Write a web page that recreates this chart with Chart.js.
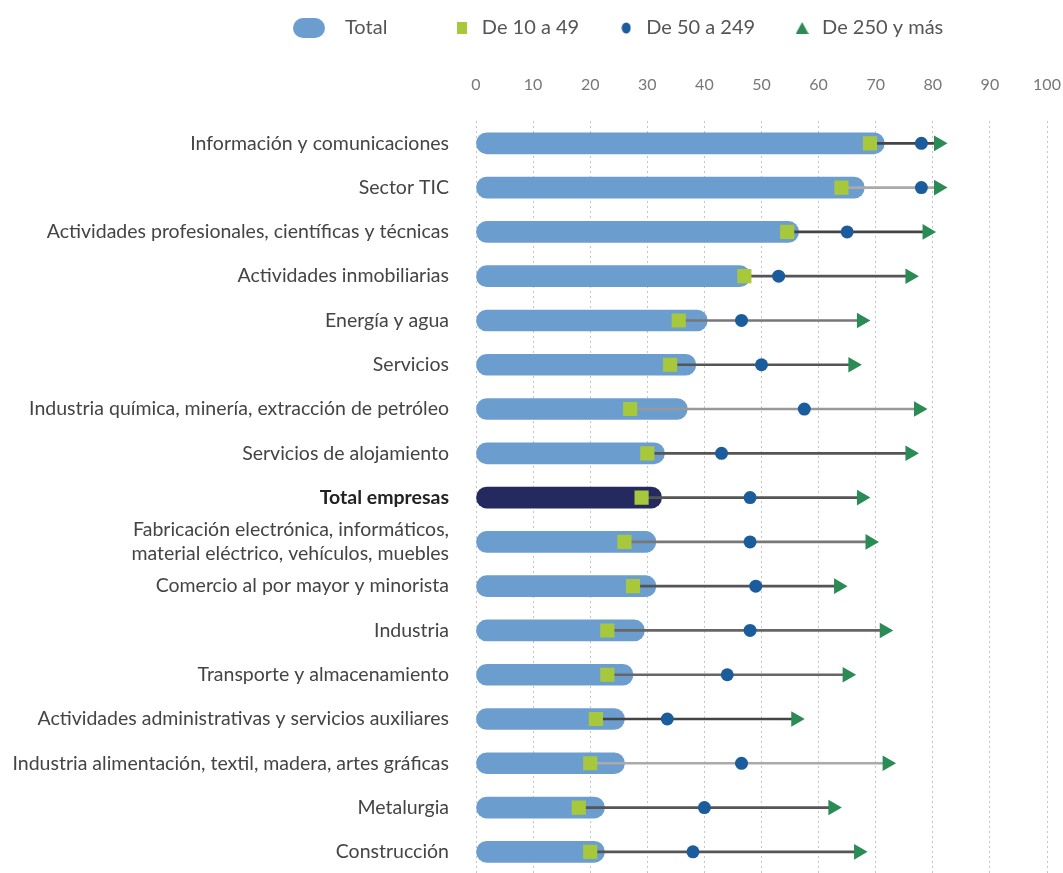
<!DOCTYPE html>
<html lang="es">
<head>
<meta charset="utf-8">
<title>Empresas por sector y tamaño</title>
<script src="https://cdn.jsdelivr.net/npm/chart.js@4.4.1/dist/chart.umd.min.js"></script>
<style>
  html, body { margin: 0; padding: 0; background: #fff; overflow: hidden; }
  /* 11 px mas alto que la ventana: Chart.js reserva media etiqueta abajo */
  #wrap { width: 1063px; height: 884px; position: relative; }
</style>
</head>
<body>
<div id="wrap"><canvas id="grafico"></canvas></div>
<script>
// datos (porcentaje de empresas)
const categorias = [
  "Información y comunicaciones",
  "Sector TIC",
  "Actividades profesionales, científicas y técnicas",
  "Actividades inmobiliarias",
  "Energía y agua",
  "Servicios",
  "Industria química, minería, extracción de petróleo",
  "Servicios de alojamiento",
  "Total empresas",
  ["Fabricación electrónica, informáticos,", "material eléctrico, vehículos, muebles"],
  "Comercio al por mayor y minorista",
  "Industria",
  "Transporte y almacenamiento",
  "Actividades administrativas y servicios auxiliares",
  "Industria alimentación, textil, madera, artes gráficas",
  "Metalurgia",
  "Construcción"
];
const total    = [71.5, 68, 56.5, 48, 40.5, 38.5, 37, 33, 32.5, 31.5, 31.5, 29.5, 27.5, 26, 26, 22.5, 22.5];
const de10a49  = [69, 64, 54.5, 47, 35.5, 34, 27, 30, 29, 26, 27.5, 23, 23, 21, 20, 18, 20];
const de50a249 = [78, 78, 65, 53, 46.5, 50, 57.5, 43, 48, 48, 49, 48, 44, 33.5, 46.5, 40, 38];
const de250    = [81, 81, 79, 76, 67.5, 66, 77.5, 76, 67.5, 69, 63.5, 71.5, 65, 56, 72, 62.5, 67];
const ticksEje = [0, 10, 20, 30, 40, 50, 60, 70, 80, 90, 100];

// colores
const azulClaro = "#6b9ecf";
const azulOscuro = "#242a5f";
const verdeLima = "#a8c83c";
const azulPunto = "#1b5c9c";
const verde = "#2b8b55";
const colorLinea = ["#444", "#aaa", "#444", "#555", "#777", "#555", "#999", "#555", "#555",
  "#777", "#555", "#666", "#666", "#444", "#aaa", "#555", "#555"];

const esTotal = (i) => categorias[i] === "Total empresas";

// tramo entre el punto de 10 a 49 y el de 250 y mas
const tramos = categorias.map((c, i) => [de10a49[i], de250[i]]);

// iconos de la leyenda
function icono(w, h, dibujar) {
  const c = document.createElement("canvas");
  c.width = w;
  c.height = h;
  dibujar(c.getContext("2d"));
  return c;
}
const iconos = [
  // la pastilla va desplazada a la izquierda del centro de la caja
  icono(64, 20, (g) => {
    g.fillStyle = azulClaro;
    g.beginPath();
    g.roundRect(0, 0, 32, 20, 10);
    g.fill();
  }),
  icono(10, 12, (g) => {
    g.fillStyle = verdeLima;
    g.fillRect(0, 0, 10, 12);
  }),
  icono(10, 12, (g) => {
    g.fillStyle = azulPunto;
    g.beginPath();
    g.ellipse(5, 6, 4.5, 5.5, 0, 0, Math.PI * 2);
    g.fill();
  }),
  icono(13, 12, (g) => {
    g.fillStyle = verde;
    g.beginPath();
    g.moveTo(6.5, 0);
    g.lineTo(13, 12);
    g.lineTo(0, 12);
    g.closePath();
    g.fill();
  })
];

// coloca la leyenda: la primera caja empieza en x = 315
const moverLeyenda = {
  id: "moverLeyenda",
  afterLayout(chart) {
    const l = chart.legend;
    const ancho = l.lineWidths[0];
    const pad = l.options.labels.padding;
    const inicio = (l.left + pad + l.right - ancho) / 2;
    const dx = 315 - inicio;
    l.left += dx;
    l.right += dx;
  }
};

const fuente = "Lato, 'Open Sans', sans-serif";

const ctx = document.getElementById("grafico").getContext("2d");
new Chart(ctx, {
  data: {
    labels: categorias,
    datasets: [
      {
        type: "bar",
        label: "Total",
        data: total,
        backgroundColor: categorias.map((c, i) => (esTotal(i) ? azulOscuro : azulClaro)),
        barThickness: 21,
        borderRadius: 11,
        borderSkipped: false,
        grouped: false,
        indexAxis: "y",
        order: 5
      },
      {
        type: "line",
        label: "De 10 a 49",
        data: de10a49,
        showLine: false,
        pointStyle: "rect",
        pointRadius: 10,
        pointBorderWidth: 0,
        backgroundColor: verdeLima,
        borderColor: verdeLima,
        indexAxis: "y",
        order: 1
      },
      {
        type: "line",
        label: "De 50 a 249",
        data: de50a249,
        showLine: false,
        pointStyle: "circle",
        pointRadius: 6.5,
        pointBorderWidth: 0,
        backgroundColor: azulPunto,
        borderColor: azulPunto,
        indexAxis: "y",
        order: 2
      },
      {
        type: "line",
        label: "De 250 y más",
        data: de250,
        showLine: false,
        pointStyle: "triangle",
        pointRotation: 90,
        pointRadius: 9,
        pointBorderWidth: 0,
        backgroundColor: verde,
        borderColor: verde,
        indexAxis: "y",
        order: 3
      },
      {
        type: "bar",
        label: "tramo",
        data: tramos,
        barThickness: 2,
        backgroundColor: colorLinea,
        grouped: false,
        indexAxis: "y",
        order: 4
      }
    ]
  },
  options: {
    indexAxis: "y",
    responsive: true,
    maintainAspectRatio: false,
    animation: false,
    layout: { padding: { left: 0, right: 0, top: -19, bottom: 0 } },
    plugins: {
      tooltip: { enabled: false },
      legend: {
        position: "top",
        align: "center",
        labels: {
          usePointStyle: true,
          pointStyleWidth: 20,
          boxHeight: 16,
          padding: 37,
          color: "#555",
          font: { family: fuente, size: 20 },
          filter: (item) => item.datasetIndex < 4,
          sort: (a, b) => a.datasetIndex - b.datasetIndex,
          generateLabels(chart) {
            const items = Chart.defaults.plugins.legend.labels.generateLabels(chart);
            return items.map((it) => {
              it.pointStyle = iconos[it.datasetIndex] || it.pointStyle;
              it.rotation = 0;
              it.lineWidth = 0;
              // hueco extra detras de "Total", como en el original
              if (it.datasetIndex === 0) it.text = it.text + "\u2003\u2002\u2009";
              return it;
            });
          }
        }
      }
    },
    scales: {
      x: {
        type: "linear",
        position: "top",
        min: 0,
        max: 100,
        afterBuildTicks: (s) => {
          s.ticks = ticksEje.map((v) => ({ value: v }));
        },
        afterFit: (s) => {
          s.paddingLeft = 0;
          s.paddingRight = 16;
        },
        ticks: { color: "#777", padding: 27, font: { family: fuente, size: 16 } },
        grid: { color: "#c4c4c4", drawTicks: false, lineWidth: 1 },
        border: { display: false, dash: [2, 3] }
      },
      y: {
        type: "category",
        grid: { display: false },
        border: { display: false },
        afterFit: (s) => {
          s.width = 476;
          s.paddingTop = 0;
          s.paddingBottom = 0;
        },
        ticks: {
          autoSkip: false,
          padding: 19,
          color: (c) => (esTotal(c.index) ? "#222" : "#444"),
          font: (c) => ({ family: fuente, size: 19.5, weight: esTotal(c.index) ? "bold" : "normal" })
        }
      }
    }
  },
  plugins: [moverLeyenda]
});
</script>
</body>
</html>
